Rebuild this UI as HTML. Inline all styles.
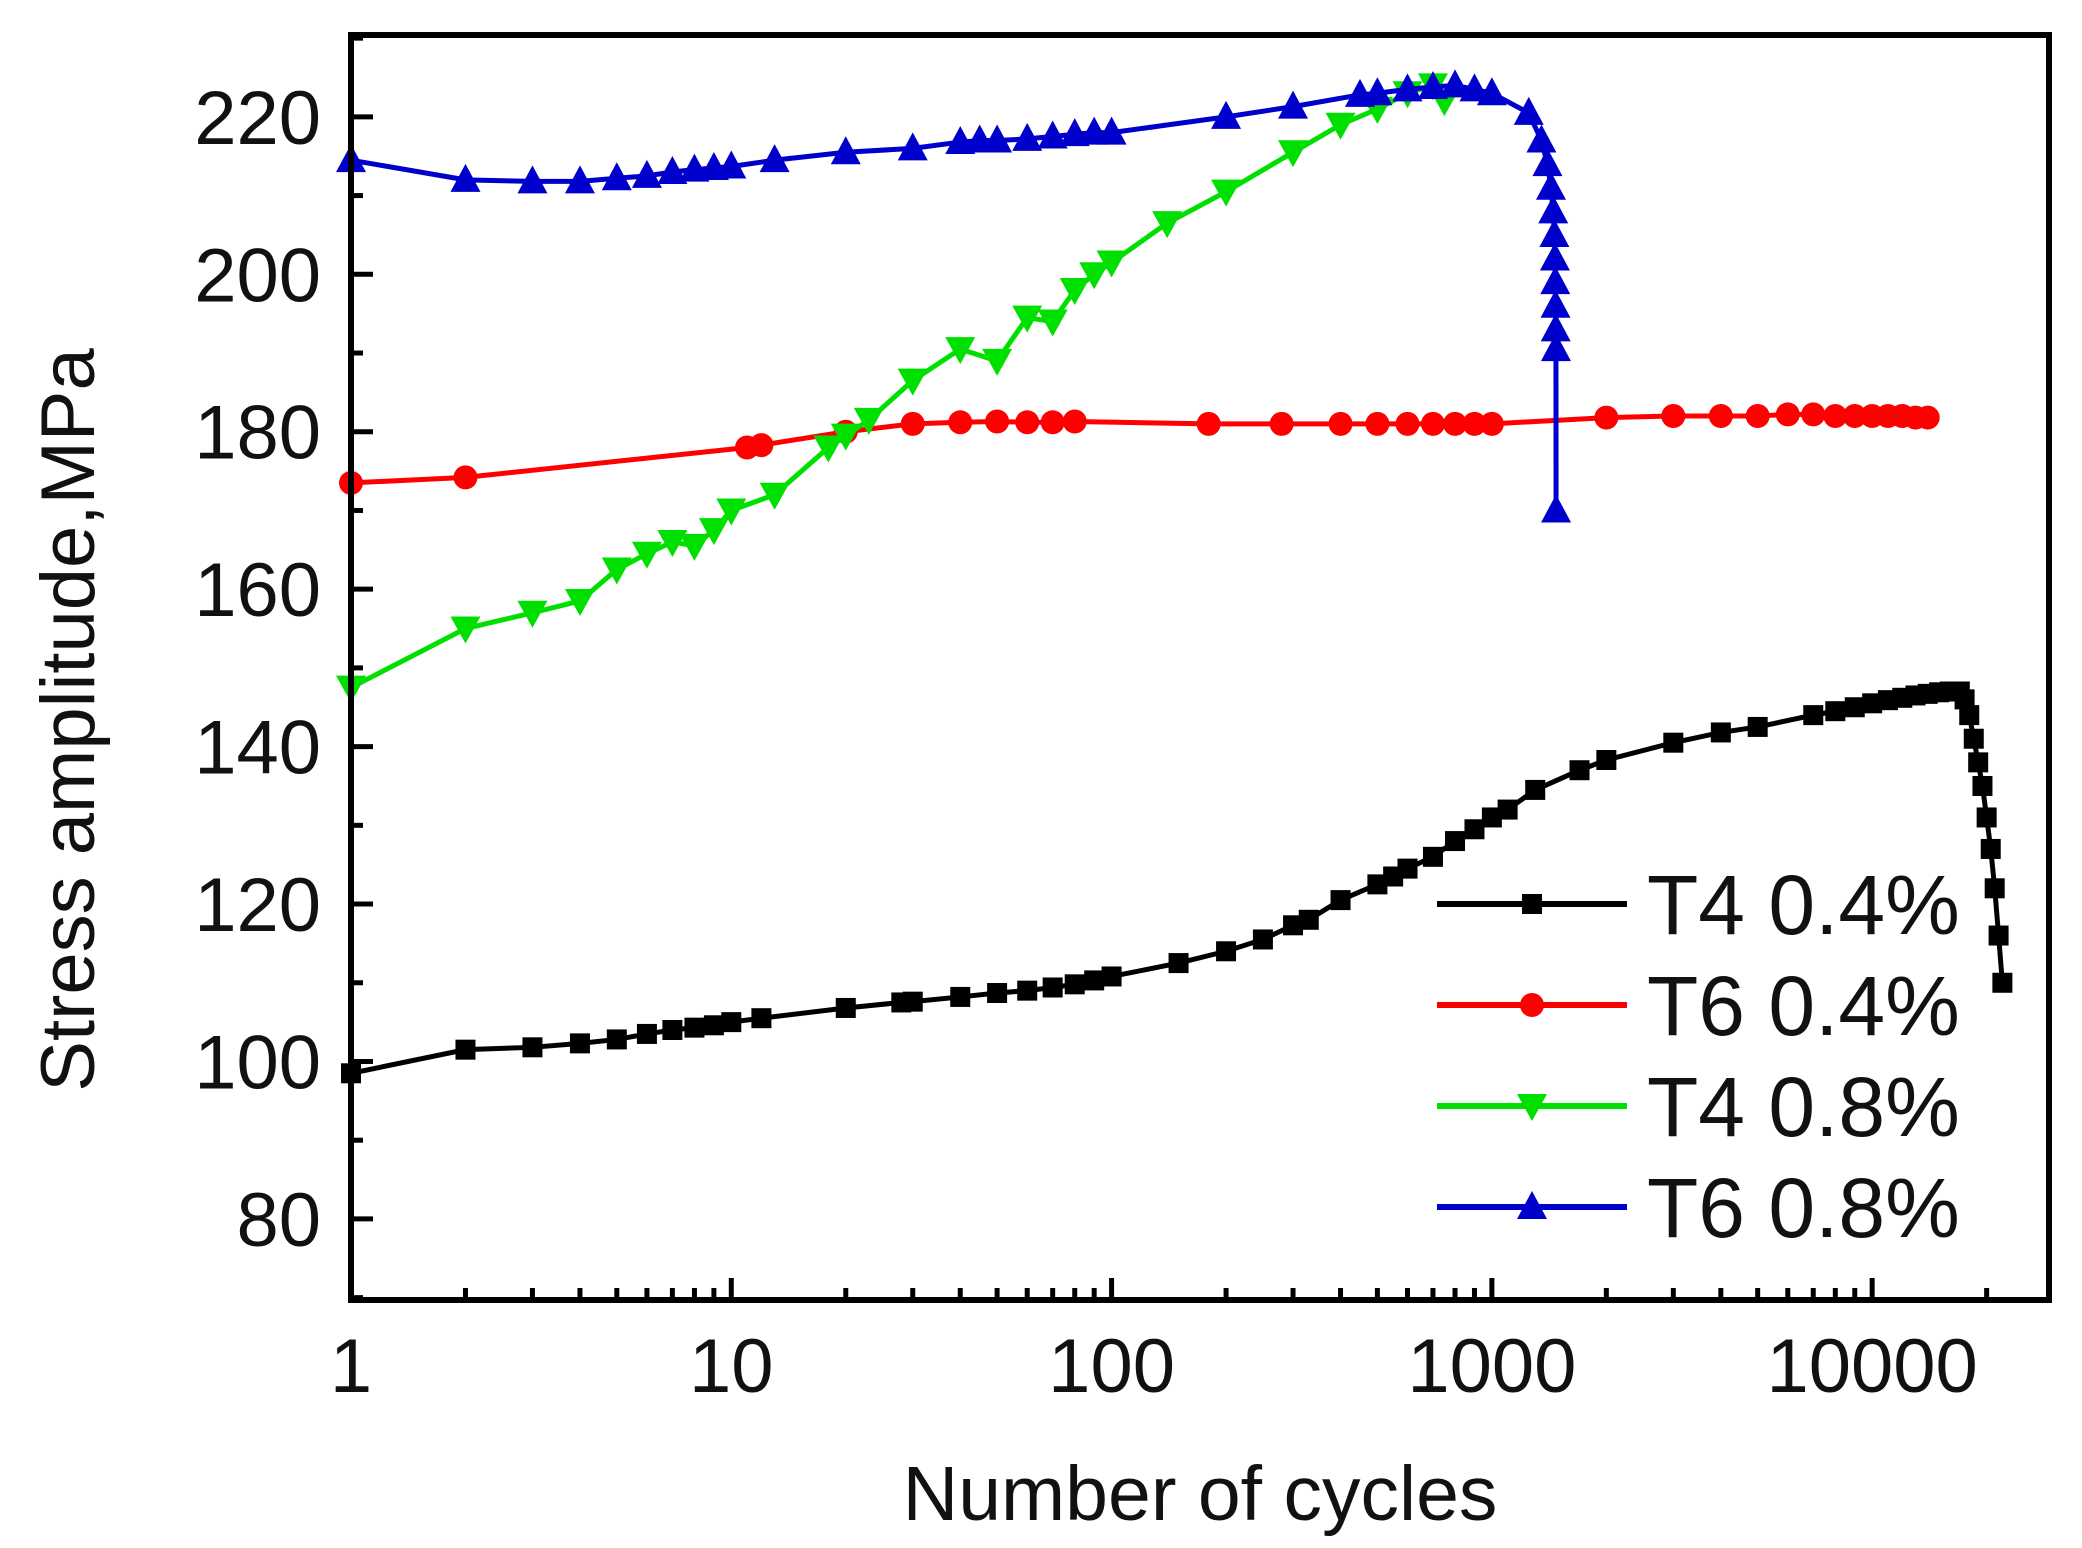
<!DOCTYPE html>
<html><head><meta charset="utf-8"><style>
html,body{margin:0;padding:0;background:#fff;}
svg{display:block;font-family:"Liberation Sans",Arial,sans-serif;}
</style></head><body>
<svg id="chart" width="2082" height="1548" viewBox="0 0 2082 1548" xmlns="http://www.w3.org/2000/svg">
<rect width="2082" height="1548" fill="#fff"/>
<g id="series"></g>
<g id="axes"></g>
<g id="legend"></g>
</svg>
<script>
const yTicks=[80,100,120,140,160,180,200,220];
const xTicks=[1,10,100,1000,10000];
const xTickLabels=["1","10","100","1000","10000"];
const seriesNames=["T4 0.4%","T6 0.4%","T4 0.8%","T6 0.8%"];
const t4a_x=[1,2,3,4,5,6,7,8,9,10,12,20,28,30,40,50,60,70,80,90,100,150,200,250,300,330,400,500,550,600,700,800,900,1000,1100,1300,1700,2000,3000,4000,5000,7000,8000,9000,10000,11000,12000,13000,14000,15000,16000,17000,17500,18000,18500,19000,19500,20000,20500,21000,21500,22000];
const t4a_y=[98.5,101.5,101.8,102.3,102.8,103.5,104,104.3,104.6,105,105.5,106.8,107.5,107.6,108.2,108.7,109,109.4,109.8,110.3,110.8,112.5,114,115.5,117.3,118,120.5,122.5,123.5,124.5,126,128,129.5,131,132,134.5,137,138.3,140.5,141.8,142.5,144,144.5,145,145.5,145.9,146.2,146.5,146.7,146.9,147,147,146,144,141,138,135,131,127,122,116,110];
const t6a_x=[1,2,11,12,20,30,40,50,60,70,80,180,280,400,500,600,700,800,900,1000,2000,3000,4000,5000,6000,7000,8000,9000,10000,11000,12000,13000,14000];
const t6a_y=[173.5,174.2,178,178.3,180,181,181.2,181.3,181.2,181.2,181.3,181,181,181,181,181,181,181,181,181,181.8,182,182,182,182.2,182.2,182,182,182,182,182,181.8,181.8];
const t4b_x=[1,2,3,4,5,6,7,8,9,10,13,18,20,23,30,40,50,60,70,80,90,100,140,200,300,400,500,600,700,750];
const t4b_y=[147.5,155,157,158.5,162.5,164.5,166,165.5,167.5,170,172,178,179.5,181.5,186.5,190.5,189,194.5,194,198,200,201.5,206.5,210.5,215.5,219,221,223,224,222];
const t6b_x=[1,2,3,4,5,6,7,8,9,10,13,20,30,40,45,50,60,70,80,90,100,200,300,450,500,600,700,800,900,1000,1250,1350,1400,1430,1450,1460,1465,1468,1470,1472,1474,1475];
const t6b_y=[214.5,212,211.8,211.8,212.2,212.5,213,213.3,213.5,213.7,214.5,215.5,216,216.8,217,217,217.2,217.5,217.8,218,218,220,221.3,222.8,223,223.5,223.8,224,223.5,223,220.5,217,214,211,208,205,202,199,196,193,190.5,170];

const NS="http://www.w3.org/2000/svg";
const L=351,R=2049,T=35,B=1300;
const xmin=0,xmax=4.465,ymin=69.7,ymax=230.4;
function X(v){return L+(Math.log10(v)-xmin)/(xmax-xmin)*(R-L);}
function Y(v){return B-(v-ymin)/(ymax-ymin)*(B-T);}
function mk(tag,attrs,parent){const e=document.createElementNS(NS,tag);for(const k in attrs)e.setAttribute(k,attrs[k]);parent.appendChild(e);return e;}
const sg=document.getElementById('series'),ag=document.getElementById('axes'),lg=document.getElementById('legend');

function marker(type,cx,cy,color,parent){
  let e;
  if(type==='sq'){e=mk('rect',{x:cx-10,y:cy-10,width:20,height:20,fill:color},parent);}
  else if(type==='ci'){e=mk('circle',{cx:cx,cy:cy,r:12,fill:color},parent);}
  else if(type==='dn'){e=mk('polygon',{points:`${cx-15},${cy-12} ${cx+15},${cy-12} ${cx},${cy+15}`,fill:color},parent);}
  else {e=mk('polygon',{points:`${cx-15},${cy+12} ${cx+15},${cy+12} ${cx},${cy-16}`,fill:color},parent);}
  return e;
}
const defs=[[t4a_x,t4a_y,'#000','sq','t4-0.4'],[t6a_x,t6a_y,'#ff0000','ci','t6-0.4'],[t4b_x,t4b_y,'#00e000','dn','t4-0.8'],[t6b_x,t6b_y,'#0000cc','up','t6-0.8']];
defs.forEach(([xs,ys,c,m,n])=>{
  const g=mk('g',{},sg);
  
  
  const pl=mk('polyline',{points:xs.map((x,i)=>X(x)+','+Y(ys[i])).join(' '),fill:'none',stroke:c,'stroke-width':5},g);
  
  
  xs.forEach((x,i)=>{const e=marker(m,X(x),Y(ys[i]),c,g);
    
    });
});

const fr=mk('rect',{x:L,y:T,width:R-L,height:B-T,fill:'none',stroke:'#000','stroke-width':6},ag);


yTicks.forEach(v=>{
  const t=mk('line',{x1:L,x2:L+22,y1:Y(v),y2:Y(v),stroke:'#000','stroke-width':5},ag);
  
  
  const m=mk('line',{x1:L,x2:L+12,y1:Y(v-10),y2:Y(v-10),stroke:'#000','stroke-width':5},ag);
  
  
  const tx=mk('text',{x:L-30,y:Y(v)+27,'text-anchor':'end','font-size':76,fill:'#111'},ag);
  tx.textContent=v;
  
  
});
const ym=mk('line',{x1:L,x2:L+12,y1:Y(230),y2:Y(230),stroke:'#000','stroke-width':5},ag);


xTicks.forEach((v,i)=>{
  const t=mk('line',{x1:X(v),x2:X(v),y1:B,y2:B-22,stroke:'#000','stroke-width':5},ag);
  
  
  for(let k=2;k<=9;k++){const xv=v*k;if(Math.log10(xv)>xmax)break;
    const m=mk('line',{x1:X(xv),x2:X(xv),y1:B,y2:B-12,stroke:'#000','stroke-width':5},ag);
    
    }
  const tx=mk('text',{x:X(v),y:1392,'text-anchor':'middle','font-size':76,fill:'#111'},ag);
  tx.textContent=xTickLabels[i];
  
  
});
const xt=mk('text',{x:1200,y:1520,'text-anchor':'middle','font-size':77,fill:'#111'},ag);
xt.textContent='Number of cycles';


const yt=mk('text',{x:0,y:0,'text-anchor':'middle','font-size':76,fill:'#111',transform:'translate(94,720) rotate(-90)'},ag);
yt.textContent='Stress amplitude,MPa';



const lc=['#000','#ff0000','#00e000','#0000cc'],lm=['sq','ci','dn','up'],ly=[904,1005,1106,1207];
seriesNames.forEach((n,i)=>{
  const g=mk('g',{},lg);
  
  
  mk('line',{x1:1437,x2:1627,y1:ly[i],y2:ly[i],stroke:lc[i],'stroke-width':6},g);
  marker(lm[i],1532,ly[i],lc[i],g);
  const tx=mk('text',{x:1647,y:ly[i]+30,'font-size':84,fill:'#111'},g);
  tx.textContent=n;
});
</script>
</body></html>
